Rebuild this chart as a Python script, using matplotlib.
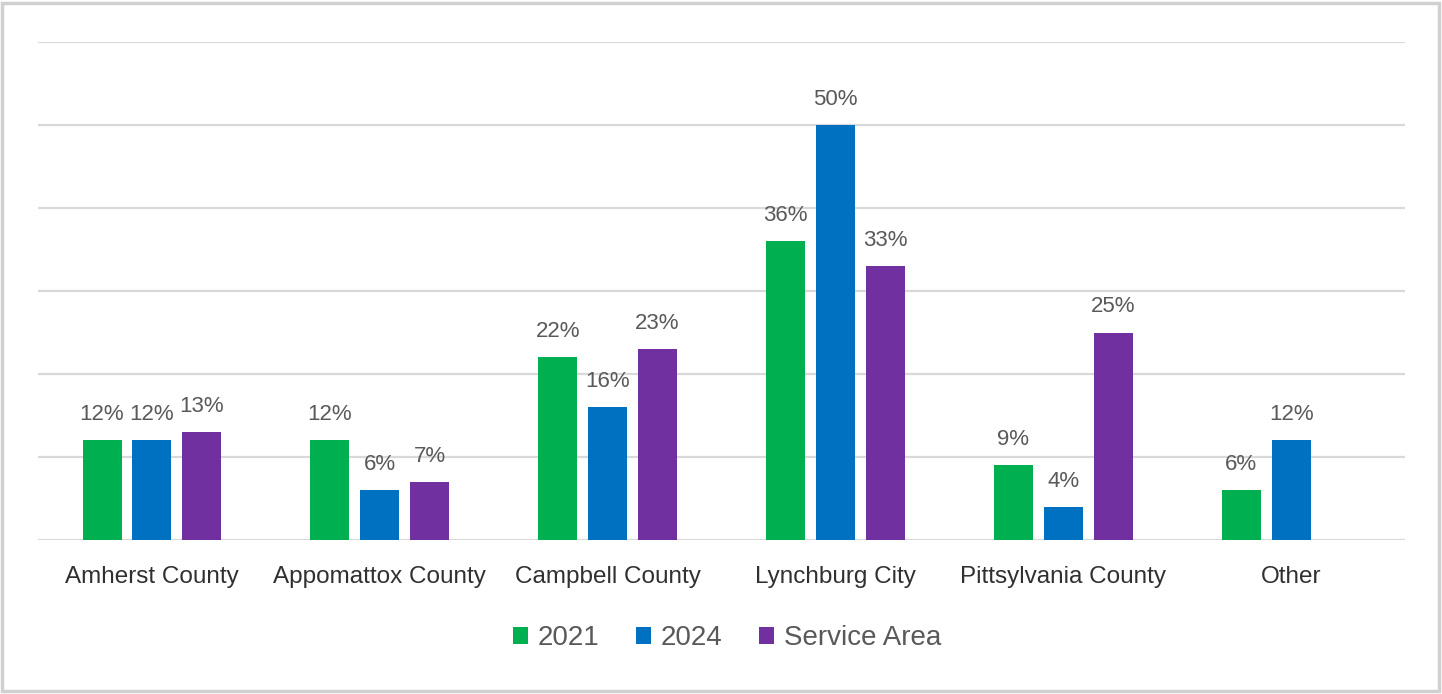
import numpy as np
import matplotlib.pyplot as plt
from matplotlib.patches import Rectangle

categories = ["Amherst County", "Appomattox County", "Campbell County",
              "Lynchburg City", "Pittsylvania County", "Other"]
share_2021 = [12, 12, 22, 36, 9, 6]
share_2024 = [12, 6, 16, 50, 4, 12]
share_service_area = [13, 7, 23, 33, 25, np.nan]

series = [
    ("2021", share_2021, "#00B050"),
    ("2024", share_2024, "#0070C0"),
    ("Service Area", share_service_area, "#7030A0"),
]

plt.rcParams["font.family"] = ["Liberation Sans", "DejaVu Sans"]

fig = plt.figure(figsize=(14.42, 6.94), dpi=100)
ax = fig.add_axes([38 / 1442, 1 - 540 / 694, (1405 - 38) / 1442, (540 - 42) / 694])

x = np.arange(len(categories))
width = 0.171
step = 0.219
for i, (name, values, color) in enumerate(series):
    pos = x + (i - 1) * step
    ax.bar(pos, values, width=width, color=color, label=name, zorder=3)
    for xp, v in zip(pos, values):
        if np.isnan(v):
            continue
        ax.annotate(f"{v:.0f}%", (xp, v), xytext=(0, 11), textcoords="offset points",
                    ha="center", va="bottom", fontsize=16, color="#595959")

ax.set_xlim(-0.5, len(categories) - 0.5)
ax.set_ylim(0, 60)
ax.set_yticks(np.arange(0, 61, 10))
ax.yaxis.grid(True, color="#D9D9D9", linewidth=1.6, zorder=0)
ax.tick_params(axis="y", left=False, labelleft=False)
ax.tick_params(axis="x", length=0, pad=19, labelsize=17.5, labelcolor="#303030")
ax.set_xticks(x)
ax.set_xticklabels(categories)
for side in ax.spines.values():
    side.set_visible(False)

fig.legend(loc="center", bbox_to_anchor=(727 / 1442, 1 - 638 / 694), ncol=3,
           frameon=False, fontsize=20, handlelength=0.55, handleheight=0.55,
           handletextpad=0.35, columnspacing=1.3, labelcolor="#595959")

# thin gray frame around the whole figure
fig.patches.append(Rectangle((2 / 1442, 3 / 694), 1437 / 1442, 688 / 694,
                             transform=fig.transFigure, fill=False,
                             edgecolor="#D0D0D0", linewidth=2.5))

fig.savefig("out.png", dpi=100)
